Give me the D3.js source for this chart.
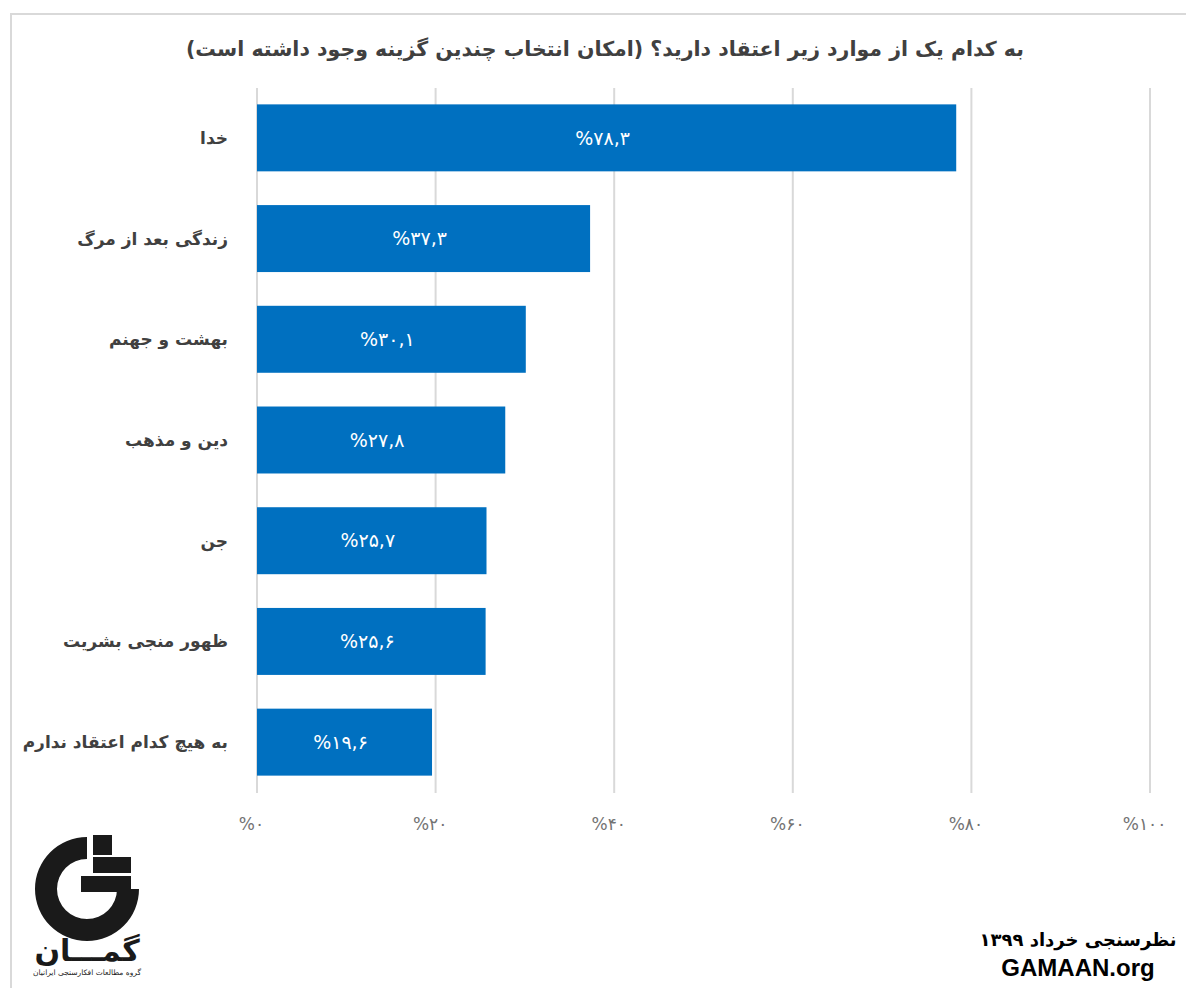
<!DOCTYPE html>
<html>
<head>
<meta charset="utf-8">
<script src="https://cdn.jsdelivr.net/npm/d3@7"></script>
<style>
  body { margin: 0; background: #fff; }
  svg { display: block; }
</style>
</head>
<body>
<div id="chart"></div>
<script>
const titleText = "به کدام یک از موارد زیر اعتقاد دارید؟ (امکان انتخاب چندین گزینه وجود داشته است)";
const categories = ["خدا", "زندگی بعد از مرگ", "بهشت و جهنم", "دین و مذهب", "جن", "ظهور منجی بشریت", "به هیچ کدام اعتقاد ندارم"];
const values = [78.3, 37.3, 30.1, 27.8, 25.7, 25.6, 19.6];
const valueLabels = ["%۷۸,۳", "%۳۷,۳", "%۳۰,۱", "%۲۷,۸", "%۲۵,۷", "%۲۵,۶", "%۱۹,۶"];
const tickValues = [0, 20, 40, 60, 80, 100];
const tickLabels = ["%۰", "%۲۰", "%۴۰", "%۶۰", "%۸۰", "%۱۰۰"];
const footerLines = ["نظرسنجی خرداد ۱۳۹۹", "GAMAAN.org"];

const W = 1186, H = 988;
const arabicFont = "'DejaVu Sans', sans-serif";

const svg = d3.select("#chart").append("svg").attr("width", W).attr("height", H);

// frame (only top / left edge visible in the original crop)
svg.append("path")
  .attr("d", `M11,${H + 5} V14 H${W + 5}`)
  .attr("fill", "none")
  .attr("stroke", "#d9d9d9")
  .attr("stroke-width", 2);

// title
svg.append("text")
  .attr("x", 605)
  .attr("y", 56)
  .attr("direction", "rtl")
  .attr("text-anchor", "middle")
  .style("font-family", arabicFont)
  .style("font-weight", "bold")
  .style("font-size", "20.5px")
  .style("fill", "#404040")
  .text(titleText);

// scales
const x = d3.scaleLinear().domain([0, 100]).range([257, 1150]);
const y = d3.scaleBand().domain(categories).range([87.5, 792.5]).paddingInner(0.335).paddingOuter(0.1675);

// gridlines
svg.append("g")
  .selectAll("line")
  .data(tickValues)
  .enter()
  .append("line")
  .attr("x1", (d) => x(d))
  .attr("x2", (d) => x(d))
  .attr("y1", 88)
  .attr("y2", 793)
  .attr("stroke", "#d9d9d9")
  .attr("stroke-width", 2);

// x axis labels
const xAxis = svg.append("g")
  .attr("transform", "translate(-6,815)")
  .call(d3.axisBottom(x).tickValues(tickValues).tickSize(0).tickFormat((d, i) => tickLabels[i]));
xAxis.select(".domain").remove();
xAxis.selectAll("text")
  .attr("dy", "0.71em")
  .attr("direction", "ltr")
  .style("font-family", arabicFont)
  .style("font-size", "17px")
  .style("fill", "#737373");

// bars
svg.append("g")
  .selectAll("rect")
  .data(values)
  .enter()
  .append("rect")
  .attr("x", x(0))
  .attr("y", (d, i) => y(categories[i]))
  .attr("width", (d) => x(d) - x(0))
  .attr("height", y.bandwidth())
  .attr("fill", "#0070c0");

// value labels
svg.append("g")
  .selectAll("text")
  .data(values)
  .enter()
  .append("text")
  .attr("x", (d) => (x(0) + x(d)) / 2 - 4)
  .attr("y", (d, i) => y(categories[i]) + y.bandwidth() / 2)
  .attr("dy", "0.35em")
  .attr("direction", "ltr")
  .attr("text-anchor", "middle")
  .style("font-family", arabicFont)
  .style("font-size", "19px")
  .style("fill", "#ffffff")
  .text((d, i) => valueLabels[i]);

// category labels
svg.append("g")
  .selectAll("text")
  .data(categories)
  .enter()
  .append("text")
  .attr("x", 228)
  .attr("y", (d) => y(d) + y.bandwidth() / 2)
  .attr("dy", "0.35em")
  .attr("direction", "rtl")
  .attr("text-anchor", "start")
  .style("font-family", arabicFont)
  .style("font-weight", "bold")
  .style("font-size", "17px")
  .style("fill", "#404040")
  .text((d) => d);

// footer
svg.append("g")
  .selectAll("text")
  .data(footerLines)
  .enter()
  .append("text")
  .attr("x", 1078)
  .attr("y", (d, i) => 946 + i * 30)
  .attr("text-anchor", "middle")
  .style("font-family", (d, i) => (i === 0 ? arabicFont : "'Liberation Sans', Arial, sans-serif"))
  .style("font-weight", "bold")
  .style("font-size", (d, i) => (i === 0 ? "18px" : "24px"))
  .style("fill", "#000")
  .text((d) => d);

// logo
const logo = svg.append("g").attr("transform", "translate(87,889)");
logo.append("path")
  .attr("d", d3.arc().innerRadius(30).outerRadius(52).startAngle(Math.PI / 2).endAngle(2 * Math.PI)())
  .attr("fill", "#1a1a1a");
logo.append("rect").attr("x", 6).attr("y", -54).attr("width", 19).attr("height", 20).attr("fill", "#1a1a1a");
logo.append("rect").attr("x", 6).attr("y", -32).attr("width", 38).attr("height", 16).attr("fill", "#1a1a1a");
logo.append("rect").attr("x", -6).attr("y", -13).attr("width", 50).attr("height", 16).attr("fill", "#1a1a1a");
logo.append("text")
  .attr("x", 0)
  .attr("y", 72)
  .attr("direction", "rtl")
  .attr("text-anchor", "middle")
  .style("font-family", arabicFont)
  .style("font-weight", "bold")
  .style("font-size", "30px")
  .style("fill", "#1a1a1a")
  .text("گمـــان");
logo.append("text")
  .attr("x", 0)
  .attr("y", 86)
  .attr("direction", "rtl")
  .attr("text-anchor", "middle")
  .style("font-family", arabicFont)
  .style("font-size", "7.5px")
  .style("fill", "#1a1a1a")
  .text("گروه مطالعات افکارسنجی ایرانیان");
</script>
</body>
</html>
